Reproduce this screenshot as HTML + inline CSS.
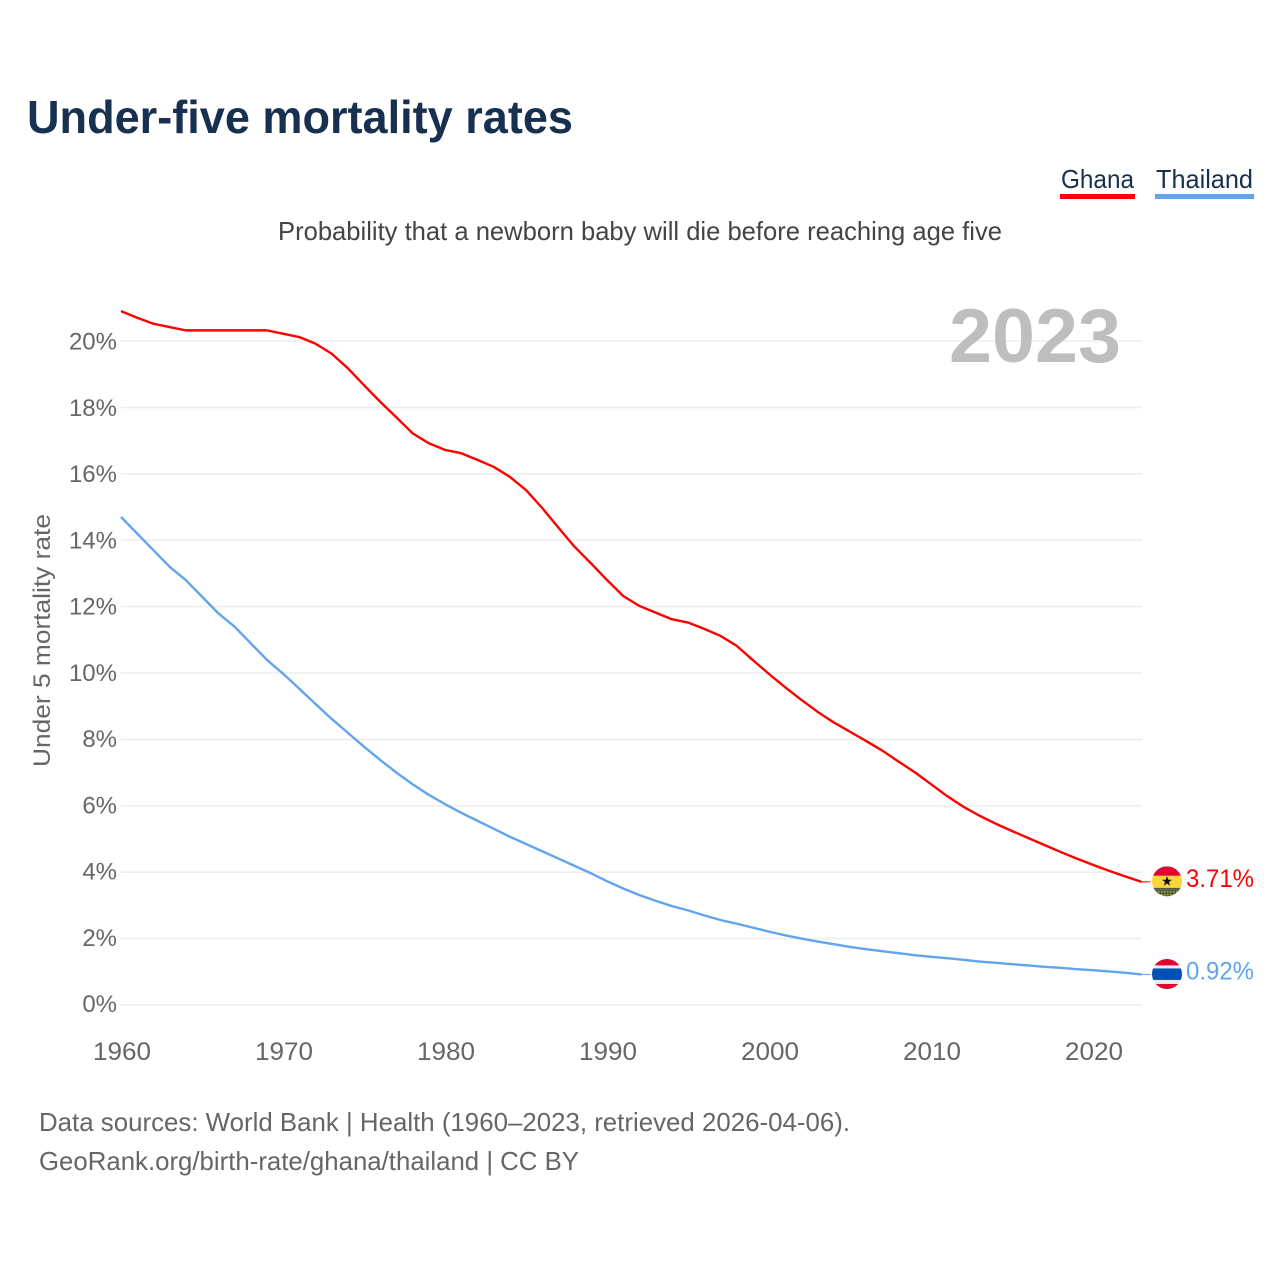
<!DOCTYPE html>
<html lang="en">
<head>
<meta charset="utf-8">
<title>Under-five mortality rates</title>
<style>
html,body{margin:0;padding:0;background:#fff;}
svg{display:block;font-family:"Liberation Sans",sans-serif;}
</style>
</head>
<body>
<svg id="chart" xmlns="http://www.w3.org/2000/svg" width="1280" height="1280" viewBox="0 0 1280 1280">
  <defs>
    <clipPath id="flag-clip-ghana"><circle id="clip-ghana" r="15"/></clipPath>
    <clipPath id="flag-clip-thailand"><circle id="clip-thailand" r="15"/></clipPath>
    <pattern id="ghana-weave" width="3" height="3" patternUnits="userSpaceOnUse">
      <rect width="3" height="3" fill="#4f5a3a"/>
      <rect x="0" y="0" width="1.5" height="1.5" fill="#b5a83f"/>
    </pattern>
  </defs>
  <rect width="1280" height="1280" fill="#fff"/>
  <text x="27" y="133" font-size="46" font-weight="700" fill="#18304f" textLength="546" lengthAdjust="spacingAndGlyphs">Under-five mortality rates</text>
  <g>
    <g>
      <text x="1061" y="188" font-size="26" fill="#18304f" textLength="73" lengthAdjust="spacingAndGlyphs">Ghana</text>
      <rect x="1060" y="194" width="75" height="5" fill="#ff0000"/>
    </g>
    <g>
      <text x="1156" y="188" font-size="26" fill="#18304f" textLength="97" lengthAdjust="spacingAndGlyphs">Thailand</text>
      <rect x="1155" y="194" width="99" height="5" fill="#60a5ee"/>
    </g>
  </g>
  <text x="278" y="240" font-size="26" fill="#444" textLength="724" lengthAdjust="spacingAndGlyphs">Probability that a newborn baby will die before reaching age five</text>
  <g id="grid"></g>
  <text x="1121" y="362" font-size="76" font-weight="700" fill="#bebebe" text-anchor="end" textLength="172" lengthAdjust="spacingAndGlyphs">2023</text>
  <g id="yticks"></g>
  <g id="xticks"></g>
  <text transform="translate(50,767) rotate(-90)" font-size="24" fill="#666" textLength="253" lengthAdjust="spacingAndGlyphs">Under 5 mortality rate</text>
  <g id="series"></g>
  <g id="ends"></g>
  <text x="39" y="1131" font-size="26" fill="#666" textLength="811" lengthAdjust="spacingAndGlyphs">Data sources: World Bank | Health (1960–2023, retrieved 2026-04-06).</text>
  <text x="39" y="1170" font-size="26" fill="#666" textLength="540" lengthAdjust="spacingAndGlyphs">GeoRank.org/birth-rate/ghana/thailand | CC BY</text>
</svg>
<script>
const startYear = 1960;
const ghanaValues = [20.9,20.7,20.52,20.42,20.32,20.32,20.32,20.32,20.32,20.32,20.22,20.12,19.92,19.62,19.18,18.67,18.17,17.7,17.22,16.92,16.72,16.62,16.42,16.21,15.91,15.51,14.97,14.38,13.8,13.31,12.8,12.32,12.02,11.82,11.62,11.52,11.33,11.12,10.82,10.39,9.97,9.57,9.19,8.83,8.51,8.23,7.95,7.66,7.33,7.01,6.65,6.29,5.97,5.7,5.46,5.24,5.03,4.82,4.61,4.41,4.22,4.04,3.87,3.71];
const thailandValues = [14.7,14.2,13.7,13.2,12.8,12.3,11.8,11.4,10.9,10.4,9.98,9.53,9.07,8.62,8.2,7.78,7.38,7.0,6.65,6.33,6.05,5.79,5.55,5.31,5.07,4.85,4.63,4.41,4.19,3.97,3.73,3.51,3.31,3.14,2.98,2.85,2.7,2.56,2.45,2.33,2.21,2.1,2.0,1.91,1.83,1.75,1.68,1.62,1.56,1.5,1.45,1.41,1.36,1.31,1.27,1.23,1.19,1.15,1.12,1.08,1.05,1.01,0.97,0.92];
const yTickValues = [0,2,4,6,8,10,12,14,16,18,20];
const xTickYears = [1960,1970,1980,1990,2000,2010,2020];

const NS = 'http://www.w3.org/2000/svg';
const xScale = function (year) { return 121 + (year - 1960) * 16.2; };
const yScale = function (value) { return 1005 - value * 33.2; };
const make = function (tag, parent, attrs) {
  const el = document.createElementNS(NS, tag);
  Object.keys(attrs).forEach(function (k) { el.setAttribute(k, attrs[k]); });
  parent.appendChild(el);
  return el;
};

const grid = document.getElementById('grid');
const yticks = document.getElementById('yticks');
yTickValues.forEach(function (v) {
  const line = make('line', grid, {x1: 121, x2: 1142, y1: yScale(v), y2: yScale(v), stroke: '#eeeeee', 'stroke-width': 1.6});
  
  
  const label = make('text', yticks, {x: 117, y: yScale(v) + 7 + v * 0.08, 'text-anchor': 'end', 'font-size': 24, fill: '#666'});
  
  
  label.textContent = v + '%';
});

const xticks = document.getElementById('xticks');
xTickYears.forEach(function (yr) {
  const label = make('text', xticks, {x: xScale(yr) + 1, y: 1060, 'text-anchor': 'middle', 'font-size': 25, fill: '#666', textLength: 58, lengthAdjust: 'spacingAndGlyphs'});
  
  
  label.textContent = yr;
});

const seriesGroup = document.getElementById('series');
const ends = document.getElementById('ends');
const drawSeries = function (values, color, key) {
  const pts = values.map(function (v, i) {
    return xScale(startYear + i).toFixed(2) + ',' + yScale(v).toFixed(2);
  }).join(' ');
  const line = make('polyline', seriesGroup, {points: pts, fill: 'none', stroke: color, 'stroke-width': 2.4, 'stroke-linejoin': 'round'});
  
  

  const last = values[values.length - 1];
  const lastX = xScale(startYear + values.length - 1);
  const lastY = yScale(last);
  const leader = make('line', ends, {x1: lastX, x2: lastX + 9, y1: lastY, y2: lastY, stroke: color, 'stroke-width': 1});
  
  
  const label = make('text', ends, {x: 1254, y: lastY + 5, 'text-anchor': 'end', 'font-size': 25, fill: color, textLength: 68, lengthAdjust: 'spacingAndGlyphs'});
  
  
  label.textContent = last.toFixed(2) + '%';
  return lastY;
};
const ghanaY = drawSeries(ghanaValues, '#ff0000', 'ghana');
const thailandY = drawSeries(thailandValues, '#60a5ee', 'thailand');

const cx = 1167;
const drawFlag = function (key, cy, bands) {
  const clip = document.getElementById('clip-' + key);
  clip.setAttribute('cx', cx);
  clip.setAttribute('cy', cy);
  const g = make('g', ends, {'clip-path': 'url(#flag-clip-' + key + ')'});
  
  
  bands.forEach(function (b) {
    make('rect', g, {x: cx - 15, y: cy + b[0], width: 30, height: b[1], fill: b[2]});
  });
  return g;
};
const ghanaFlag = drawFlag('ghana', ghanaY - 0.5, [[-15, 9.5, '#e2062c'], [-5.5, 12, '#fdd53a'], [6.5, 2, '#4f5a3a'], [8.5, 7, 'url(#ghana-weave)']]);
make('polygon', ghanaFlag, {
  points: [[0,-5.2],[1.3,-1.6],[5,-1.6],[2,0.7],[3.1,4.4],[0,2.2],[-3.1,4.4],[-2,0.7],[-5,-1.6],[-1.3,-1.6]]
    .map(function (p) { return (cx + p[0]) + ',' + (ghanaY - 0.5 + p[1]); }).join(' '),
  fill: '#111'
});
drawFlag('thailand', thailandY - 0.5, [[-16, 7.5, '#e2062c'], [-8.5, 3, '#ececec'], [-5.5, 11.5, '#0050b5'], [6, 4, '#ececec'], [10, 6, '#e2062c']]);
</script>
</body>
</html>
